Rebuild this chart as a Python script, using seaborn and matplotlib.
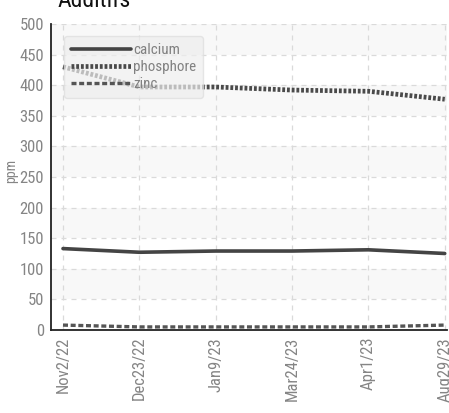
import pandas as pd
import numpy as np
import matplotlib
matplotlib.use('Agg')
import matplotlib.pyplot as plt
import seaborn as sns

# Chart data
dates = ['Nov2/22', 'Dec23/22', 'Jan9/23', 'Mar24/23', 'Apr1/23', 'Aug29/23']
calcium = [133, 127, 129, 129, 131, 125]
phosphore = [430, 397, 397, 392, 390, 377]
zinc = [8, 5, 5, 5, 5, 8]


def main():
    sns.set_style('white')
    plt.rcParams['font.family'] = ['Roboto Condensed', 'Liberation Sans Narrow', 'Roboto', 'DejaVu Sans']
    plt.rcParams['font.stretch'] = 'condensed'

    df = pd.DataFrame({
        'date': dates * 3,
        'pos': list(range(len(dates))) * 3,
        'value': calcium + phosphore + zinc,
        'element': ['calcium'] * 6 + ['phosphore'] * 6 + ['zinc'] * 6,
    })

    fig = plt.figure(figsize=(4.49, 4.13), dpi=100)
    ax = fig.add_axes([0.1136, 0.201, 0.882, 0.741])

    # alternating bands
    for lo in range(50, 500, 100):
        ax.axhspan(lo, lo + 50, color='#f8f8f8', zorder=0, lw=0)

    sns.lineplot(data=df, x='pos', y='value', hue='element', style='element',
                 palette={'calcium': '#444444', 'phosphore': '#4a4a4a', 'zinc': '#555555'},
                 dashes={'calcium': '', 'phosphore': (0.6, 0.4), 'zinc': (1.5, 0.8)},
                 size='element', sizes={'calcium': 2.6, 'phosphore': 3.4, 'zinc': 2.4},
                 ax=ax, zorder=3)

    ax.set_xlim(-0.157, 5.03)
    ax.set_ylim(0, 500)
    ax.set_yticks(range(0, 501, 50))
    ax.set_xticks(range(len(dates)))
    ax.set_xticklabels(dates, rotation=90)
    ax.grid(True, color='#dadada', linestyle=(0, (4, 4)), linewidth=0.9)
    ax.set_axisbelow(True)
    ax.tick_params(axis='both', colors='#222222', labelcolor='#858585', labelsize=12,
                   direction='inout', length=6, width=1.2, pad=2)
    for s in ['top', 'right']:
        ax.spines[s].set_visible(False)
    for s in ['left', 'bottom']:
        ax.spines[s].set_color('#222222')
        ax.spines[s].set_linewidth(1.3)
    ax.set_xlabel('')
    ax.set_ylabel('ppm', color='#858585', fontsize=10)
    ax.yaxis.set_label_coords(-0.082, 0.52)

    leg = ax.legend(loc='upper left', bbox_to_anchor=(0.015, 0.985), handlelength=4.0,
                    handletextpad=0.15, labelspacing=0.22, fontsize=10.8,
                    frameon=True, fancybox=True, borderpad=0.45, framealpha=0.7,
                    facecolor='#eeeeee', edgecolor='#dddddd')
    for t in leg.get_texts():
        t.set_color('#808080')

    fig.text(0.127, 0.998, 'Additifs', fontsize=17, color='#111111', va='center', ha='left')

    fig.savefig('out.png', dpi=100)


if __name__ == "__main__":
    main()
